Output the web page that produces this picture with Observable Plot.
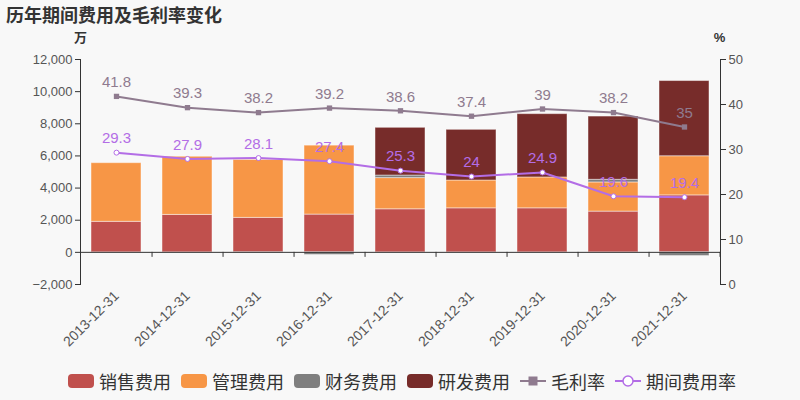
<!DOCTYPE html>
<html><head><meta charset="utf-8">
<script src="https://cdn.jsdelivr.net/npm/d3@7"></script>
<script src="https://cdn.jsdelivr.net/npm/@observablehq/plot@0.6"></script>
<style>
body{margin:0;background:#f8f8f8;font-family:"Liberation Sans","Noto Sans CJK SC",sans-serif}
#wrap{width:800px;height:400px;overflow:hidden;background:#f8f8f8}
#title{height:24px;line-height:24px;padding-top:2px;padding-left:6px;font-size:18px;font-weight:bold;color:#333;font-family:"Noto Sans CJK SC",sans-serif}
#chart{height:334px}
#chart svg{display:block}
#legend{display:flex;justify-content:center;align-items:center;height:40px;gap:10px;font-size:18px;color:#333;padding-top:2px;padding-left:4px;box-sizing:border-box;font-family:"Noto Sans CJK SC",sans-serif}
.item{display:flex;align-items:center;gap:5px}
.sw{width:26px;height:14px;border-radius:4px}
</style></head>
<body>
<div id="wrap">
<div id="title">历年期间费用及毛利率变化</div>
<div id="chart"></div>
<div id="legend"></div>
</div>
<script>
const years = ["2013-12-31","2014-12-31","2015-12-31","2016-12-31","2017-12-31","2018-12-31","2019-12-31","2020-12-31","2021-12-31"];
const seriesNames = ["销售费用","管理费用","财务费用","研发费用"];
const seriesColors = ["#c0504d","#f79646","#7f7f7f","#772c2a"];
const sales   = [1900, 2330, 2145, 2350, 2680, 2740, 2740, 2535, 3545];
const admin   = [3650, 3620, 3605, 4290, 1940, 1730, 1920, 1815, 2435];
const finance = [0, 0, -30, -165, 160, 0, 0, 165, -230];
const rnd     = [0, 0, 0, 0, 2970, 3155, 3940, 3935, 4680];
const grossMargin = [41.8, 39.3, 38.2, 39.2, 38.6, 37.4, 39, 38.2, 35];
const expenseRate = [29.3, 27.9, 28.1, 27.4, 25.3, 24, 24.9, 19.6, 19.4];
const lineNames = ["毛利率","期间费用率"];
const lineColors = ["#8f7b8f","#b36de6"];
const leftTicks = [-2000, 0, 2000, 4000, 6000, 8000, 10000, 12000];
const rightTicks = [0, 10, 20, 30, 40, 50];

const yDomain = [-2000, 12000];
const rDomain = [0, 50];
const toY = v => yDomain[0] + (v - rDomain[0]) * (yDomain[1] - yDomain[0]) / (rDomain[1] - rDomain[0]);
const fromY = y => rDomain[0] + (y - yDomain[0]) * (rDomain[1] - rDomain[0]) / (yDomain[1] - yDomain[0]);

const seriesVals = [sales, admin, finance, rnd];
const rows = [];
years.forEach((yr, i) => seriesNames.forEach((s, k) => rows.push({year: yr, type: s, v: seriesVals[k][i]})));
const rates = years.map((yr, i) => ({year: yr, g: grossMargin[i], e: expenseRate[i]}));

const W = 800, H = 334, mL = 80, mR = 80, mT = 33, mB = 76;
const step = (W - mL - mR) / years.length;
const font = '"Liberation Sans","Noto Sans CJK SC",sans-serif';

const plot = Plot.plot({
  width: W, height: H, marginTop: mT, marginBottom: mB, marginLeft: mL, marginRight: mR,
  style: {background: "transparent", fontFamily: font, fontSize: "13px", color: "#555"},
  x: {domain: years, paddingInner: 0.3, paddingOuter: 0.15, axis: null},
  y: {domain: yDomain, axis: null},
  color: {domain: seriesNames, range: seriesColors},
  marks: [
    Plot.barY(rows, {x: "year", y: "v", fill: "type", stroke: "#fff", strokeOpacity: 0.45, strokeWidth: 1}),
    Plot.ruleY([0], {stroke: "#333", strokeWidth: 1}),
    Plot.ruleX(years, {x: d => d, dx: step / 2, y1: 0, y2: 0, insetBottom: -5, stroke: "#333"}),
    Plot.frame({anchor: "left", stroke: "#333"}),
    Plot.frame({anchor: "right", stroke: "#333"}),
    Plot.axisY({anchor: "left", ticks: leftTicks, tickFormat: d3.format(","), tickSize: 5, tickPadding: 3, label: null, stroke: "#333", fill: "#555", fontSize: 13}),
    Plot.axisY({anchor: "right", ticks: rightTicks.map(toY), tickFormat: v => String(Math.round(fromY(v))), tickSize: 5, tickPadding: 3, label: null, stroke: "#333", fill: "#555", fontSize: 13}),
    Plot.axisX({anchor: "bottom", tickSize: 0, tickPadding: 9, tickRotate: -45, label: null, fill: "#555", fontSize: 14}),
    Plot.line(rates, {x: "year", y: d => toY(d.g), stroke: lineColors[0], strokeWidth: 2}),
    Plot.dot(rates, {x: "year", y: d => toY(d.g), symbol: "square", r: 3, fill: lineColors[0]}),
    Plot.text(rates, {x: "year", y: d => toY(d.g), text: d => String(d.g), dy: -14, fill: lineColors[0], fontSize: 15}),
    Plot.line(rates, {x: "year", y: d => toY(d.e), stroke: lineColors[1], strokeWidth: 2}),
    Plot.dot(rates, {x: "year", y: d => toY(d.e), r: 2.5, fill: "#fff", stroke: lineColors[1], strokeWidth: 1}),
    Plot.text(rates, {x: "year", y: d => toY(d.e), text: d => String(d.e), dy: -14, fill: lineColors[1], fontSize: 15}),
    Plot.text(["万"], {frameAnchor: "top-left", textAnchor: "middle", lineAnchor: "middle", dy: -22, fontWeight: "bold", fontSize: 13, fill: "#333"}),
    Plot.text(["%"], {frameAnchor: "top-right", textAnchor: "middle", lineAnchor: "middle", dy: -22, dx: -1, fontWeight: "bold", fontSize: 13, fill: "#333"})
  ]
});
document.getElementById("chart").appendChild(plot);

const legend = document.getElementById("legend");
seriesNames.forEach((s, k) => {
  const it = document.createElement("div"); it.className = "item";
  it.innerHTML = `<div class="sw" style="background:${seriesColors[k]}"></div><span>${s}</span>`;
  legend.appendChild(it);
});
lineNames.forEach((s, k) => {
  const it = document.createElement("div"); it.className = "item";
  const marker = k === 0
    ? `<rect x="8.5" y="2.5" width="9" height="9" fill="${lineColors[0]}"/>`
    : `<circle cx="13" cy="7" r="5" fill="#fff" stroke="${lineColors[1]}" stroke-width="1.5"/>`;
  it.innerHTML = `<svg width="26" height="14"><line x1="0" y1="7" x2="26" y2="7" stroke="${lineColors[k]}" stroke-width="2"/>${marker}</svg><span>${s}</span>`;
  legend.appendChild(it);
});
</script>
</body></html>
